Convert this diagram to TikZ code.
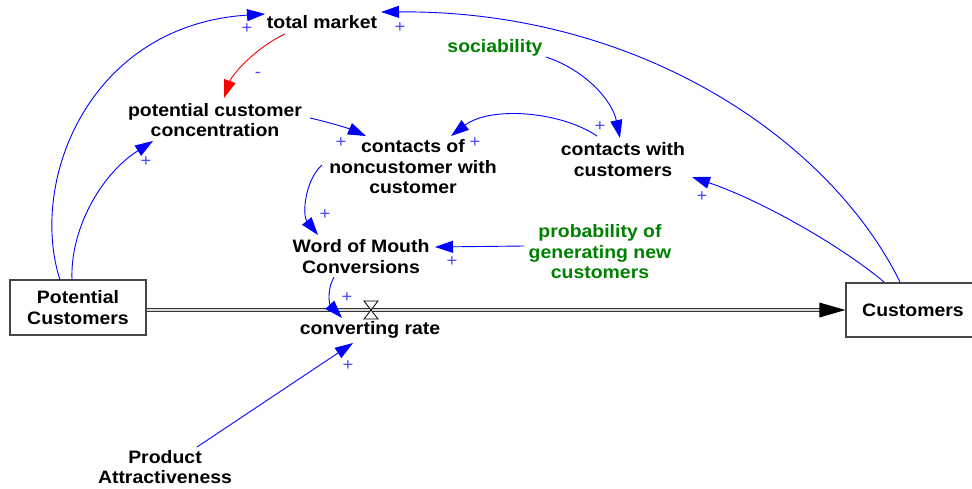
\documentclass[tikz,border=0pt]{standalone}
\usepackage{fontspec}
\setmainfont[FakeStretch=1.08]{Liberation Sans}
\usetikzlibrary{arrows.meta,calc}
\definecolor{lnkblue}{RGB}{0,0,255}
\definecolor{polblue}{RGB}{70,70,255}
\definecolor{vargreen}{RGB}{0,128,0}
\definecolor{boxgray}{RGB}{70,70,70}
\begin{document}
\begin{tikzpicture}[x=1pt,y=-1pt,
  var/.style={font=\bfseries\fontsize{18}{20.5}\selectfont, align=center, inner sep=0pt},
  lvl/.style={var, draw=boxgray, line width=1.2pt, minimum height=55pt},
  lnk/.style={draw=lnkblue, line width=0.9pt, -{Triangle[length=18pt,width=12pt]}},
  neglnk/.style={lnk, draw=red, -{Triangle[length=18pt,width=12pt,fill=red]}},
  pol/.style={text=polblue, font=\fontsize{17}{17}\selectfont, inner sep=0pt}
]
\useasboundingbox (0,0) rectangle (972,488);

% variables
\node[var] (tm) at (322,22) {total market};
\node[var, text=vargreen] (soc) at (495,48) {sociability};
\node[var] (pcc) at (215,120) {potential customer\\concentration};
\node[var] (cnc) at (413,167) {contacts of\\noncustomer with\\customer};
\node[var] (cwc) at (623,159.5) {contacts with\\customers};
\node[var] (wom) at (361,256.5) {Word of Mouth\\Conversions};
\node[var, text=vargreen] (prob) at (600,252) {probability of\\generating new\\customers};
\node[var] (cr) at (370,330) {converting rate};
\node[var] (pa) at (165,467) {Product\\Attractiveness};

% stocks
\node[lvl, minimum width=136pt] (pc) at (78,307.5) {Potential\\Customers};
\node[lvl, minimum width=134pt, minimum height=54pt] (cu) at (913,310) {Customers};

% flow pipe
\coordinate (v) at (371,310);
\draw[draw=black!80, line width=0.8pt, double=black!15, double distance=2.6pt]
  (pc.east |- v) -- ($(cu.west |- v)+(-20,0)$);
\fill[black] ($(cu.west |- v)+(-26,-7.5)$) -- (cu.west |- v) -- ($(cu.west |- v)+(-26,7.5)$) -- cycle;
\draw[fill=white, line width=0.8pt] ($(v)+(-7,-9)$) -- ($(v)+(7,-9)$) -- ($(v)+(-7,9)$) -- ($(v)+(7,9)$) -- cycle;

% links
\draw[lnk] ($(pc)+(-18,-27.5)$) .. controls (28,180) and (90,25) .. ($(tm)+(-57,-8)$);
\draw[lnk] ($(cu)+(-13,-28)$) .. controls (830,140) and (640,10) .. ($(tm)+(59,-10)$);
\draw[neglnk] ($(tm)+(-37,12)$) .. controls (255,48) and (232,75) .. ($(pcc)+(9,-22)$);
\draw[lnk] ($(pc)+(-6,-27.5)$) .. controls (70,230) and (100,175) .. ($(pcc)+(-62,21)$);
\draw[lnk] ($(pcc)+(95,-2)$) .. controls (332,123) and (350,129) .. ($(cnc)+(-47,-31)$);
\draw[lnk] ($(cwc)+(-26,-23.5)$) .. controls (560,111) and (490,106) .. ($(cnc)+(38,-31)$);
\draw[lnk] ($(soc)+(51,9)$) .. controls (585,70) and (612,100) .. ($(cwc)+(-3,-21.5)$);
\draw[lnk] ($(cu)+(-29,-28)$) .. controls (840,245) and (760,200) .. ($(cwc)+(69,17.5)$);
\draw[lnk] ($(cnc)+(-91,-2)$) .. controls (305,180) and (302,215) .. ($(wom)+(-43,-21.5)$);
\draw[lnk] ($(prob)+(-76,-6)$) -- ($(wom)+(74,-9.5)$);
\draw[lnk] ($(wom)+(-27,20.5)$) .. controls (326,292) and (330,305) .. ($(cr)+(-28,-12)$);
\draw[lnk] ($(pa)+(32,-20)$) -- ($(cr)+(-17,13)$);

% polarities
\node[pol] (p1) at (247,29) {+};
\node[pol] (p2) at (400,28) {+};
\node[pol] (p3) at (258,75) {-};
\node[pol] (p4) at (146,162) {+};
\node[pol] (p5) at (341,143) {+};
\node[pol] (p6) at (475,143) {+};
\node[pol] (p7) at (600,127) {+};
\node[pol] (p8) at (702,197) {+};
\node[pol] (p9) at (325,215) {+};
\node[pol] (p10) at (452,262) {+};
\node[pol] (p11) at (347,298) {+};
\node[pol] (p12) at (348,366) {+};
\end{tikzpicture}
\end{document}
